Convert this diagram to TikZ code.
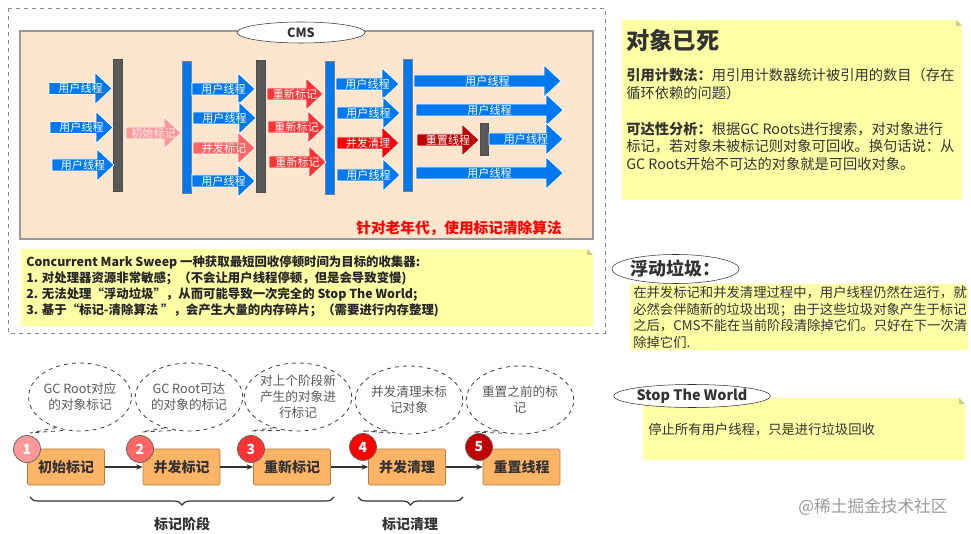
\documentclass[tikz,border=0pt]{standalone}
\usepackage{fontspec}
\setmainfont{Noto Sans CJK SC}
\usetikzlibrary{decorations.pathreplacing,shapes.geometric,arrows.meta,calc}
\definecolor{ublue}{RGB}{0,120,240}
\definecolor{barg}{RGB}{89,89,89}
\definecolor{peach}{RGB}{253,229,206}
\definecolor{notey}{RGB}{255,255,166}
\definecolor{foldc}{RGB}{205,205,140}
\definecolor{pk1}{RGB}{255,153,153}
\definecolor{pk2}{RGB}{255,102,102}
\definecolor{pk3}{RGB}{255,51,51}
\definecolor{pk4}{RGB}{255,0,0}
\definecolor{pk5}{RGB}{192,0,0}
\definecolor{boxo}{RGB}{255,180,102}
\definecolor{txt}{RGB}{51,51,51}
\newcommand\fs[2]{\fontsize{#1}{#2}\selectfont}
\newcommand\blk[6]{%
  \filldraw[#4, draw=white, line width=0.5pt] (#1,#3-6) -- ({#2-17},#3-6) -- ({#2-17},#3-16) -- (#2,#3) -- ({#2-17},#3+16) -- ({#2-17},#3+6) -- (#1,#3+6) -- cycle;
  \node[atext] (#6) at ({(#1+#2)/2},#3) {#5};}
\newcommand\notebox[4]{%
  \fill[notey] (#1,#2) -- ({#3-6},#2) -- (#3,{#2+6}) -- (#3,#4) -- (#1,#4) -- cycle;
  \fill[foldc] ({#3-6},#2) -- ({#3-6},{#2+6}) -- (#3,{#2+6}) -- cycle;}
\begin{document}
\begin{tikzpicture}[x=0.75pt,y=-0.75pt,
  atext/.style={text=white, inner sep=0pt, font=\fs{8.3}{10}},
  flowbox/.style={draw=boxo!70!black, fill=boxo, rounded corners=1pt, minimum width=77*0.75pt, minimum height=36*0.75pt, inner sep=0pt, font=\fs{10.5}{12}\bfseries, text=txt},
  numc/.style={circle, draw=black!60, line width=0.6pt, minimum size=27*0.75pt, inner sep=0pt, font=\fs{10.5}{12}\bfseries, text=white},
  bubble/.style={ellipse, draw=black!75, dashed, line width=0.6pt, minimum width=97*0.75pt, minimum height=68*0.75pt, inner sep=0pt, align=center, font=\fs{9.5}{12}, text=black!65},
  tail/.style={draw=black!75, dashed, line width=0.6pt},
  flow/.style={draw=txt, line width=1.1pt, -{Stealth[length=5pt,width=4pt]}},
  ntext/.style={anchor=north west, inner sep=0pt, align=left, text=txt}]
\useasboundingbox (0,0) rectangle (971,534);
% outer dashed frame
\draw[black!45, dashed, line width=0.6pt] (8,8) rectangle (605,333);
% peach area
\filldraw[fill=peach, draw=black!40, line width=0.8pt] (20,31) rectangle (593,239);
\node[ellipse, draw=black!80, fill=white, minimum width=128*0.75pt, minimum height=21*0.75pt, inner sep=0pt, font=\fs{9.5}{11}\bfseries, text=txt] (cms) at (301,32.5) {CMS};
% bars
\filldraw[fill=barg, draw=black!70, line width=0.4pt] (113,59) rectangle (122,191);
\filldraw[fill=ublue, draw=black!50, line width=0.4pt] (182,61) rectangle (191,193);
\filldraw[fill=barg, draw=black!70, line width=0.4pt] (256,60) rectangle (265,192);
\filldraw[fill=ublue, draw=black!50, line width=0.4pt] (325,61) rectangle (334,194);
\filldraw[fill=ublue, draw=black!50, line width=0.4pt] (403,59) rectangle (412,191);
\filldraw[fill=barg, draw=black!70, line width=0.4pt] (480,123) rectangle (488,155);
% column 1
\blk{49}{112}{88.5}{ublue}{用户线程}{a1}
\blk{50}{113}{127.5}{ublue}{用户线程}{a2}
\blk{52}{114}{165}{ublue}{用户线程}{a3}
\blk{126}{181}{133}{pk1}{\textcolor{white!85!pk1}{初始标记}}{a4}
% column 2
\blk{192}{255}{89}{ublue}{用户线程}{b1}
\blk{193}{256}{118}{ublue}{用户线程}{b2}
\blk{193}{255}{148}{pk2}{并发标记}{b3}
\blk{192}{255}{181}{ublue}{用户线程}{b4}
% column 3
\blk{267}{323}{94}{pk3}{重新标记}{c1}
\blk{268}{325}{127}{pk3}{重新标记}{c2}
\blk{269}{326}{162}{pk3}{重新标记}{c3}
% column 4
\blk{336}{399}{84}{ublue}{用户线程}{d1}
\blk{337}{400}{113}{ublue}{用户线程}{d2}
\blk{337}{399}{143}{pk4}{并发清理}{d3}
\blk{337}{400}{175}{ublue}{用户线程}{d4}
% column 5
\blk{414}{561}{81}{ublue}{用户线程}{e1}
\blk{416}{563}{110}{ublue}{用户线程}{e2}
\blk{417}{479}{140}{pk5}{重置线程}{e3}
\blk{489}{563}{139}{ublue}{用户线程}{e4}
\blk{416}{563}{173}{ublue}{用户线程}{e5}
\node[text=pk4, font=\fs{11}{13}\bfseries, inner sep=0pt] (old) at (459,228) {针对老年代，使用标记清除算法};
% note 1
\notebox{21}{249}{593}{326}
\node[ntext, font=\fs{9.3}{12}\bfseries, text=black!85] (n1) at (26,256) {%
Concurrent Mark Sweep 一种获取最短回收停顿时间为目标的收集器:\\
1. 对处理器资源非常敏感；（不会让用户线程停顿，但是会导致变慢)\\
2. 无法处理“浮动垃圾”，从而可能导致一次完全的 Stop The World;\\
3. 基于“标记-清除算法 ”，会产生大量的内存碎片；（需要进行内存整理)};
% right notes
\notebox{622}{20}{962}{200}
\node[ntext, font=\fs{17.5}{20}\bfseries] (t1) at (626,29) {对象已死};
\node[ntext, font=\fs{10.7}{13.4}] (t2) at (626,68) {%
\textbf{引用计数法：}用引用计数器统计被引用的数目（存在\\
循环依赖的问题）\\[13.4pt]
\textbf{可达性分析：}根据GC Roots进行搜索，对对象进行\\
标记，若对象未被标记则对象可回收。换句话说：从\\
GC Roots开始不可达的对象就是可回收对象。};
\notebox{630}{284}{968}{350}
\node[ellipse, draw=black!80, fill=white, minimum width=109*0.75pt, minimum height=29*0.75pt, inner sep=0pt, font=\fs{13.5}{15}\bfseries, text=txt] (fg) at (675.5,269) {浮动垃圾：};
\node[ntext, font=\fs{10}{12.4}] (t3) at (633,286) {%
在并发标记和并发清理过程中，用户线程仍然在运行，就\\
必然会伴随新的垃圾出现；由于这些垃圾对象产生于标记\\
之后，CMS不能在当前阶段清除掉它们。只好在下一次清\\
除掉它们.};
\notebox{643}{398}{965}{460}
\node[ellipse, draw=black!80, fill=white, minimum width=138*0.75pt, minimum height=23*0.75pt, inner sep=0pt, font=\fs{10.8}{12}\bfseries, text=txt] (stw) at (692,396) {Stop The World};
\node[ntext, font=\fs{10}{12}] (t4) at (648,423) {停止所有用户线程，只是进行垃圾回收};
\node[text=black!40, font=\fs{12.5}{14}, inner sep=0pt] (wm) at (873,507) {@稀土掘金技术社区};
% flow
\node[flowbox] (f1) at (66,467) {初始标记};
\node[flowbox] (f2) at (181.5,467) {并发标记};
\node[flowbox] (f3) at (292,467) {重新标记};
\node[flowbox] (f4) at (407,467) {并发清理};
\node[flowbox] (f5) at (521.5,467) {重置线程};
\draw[flow] (f1) -- (f2);
\draw[flow] (f2) -- (f3);
\draw[flow] (f3) -- (f4);
\draw[flow] (f4) -- (f5);
\node[numc, fill=pk1] (c1n) at (27,449) {1};
\node[numc, fill=pk2] (c2n) at (140,449) {2};
\node[numc, fill=pk3] (c3n) at (251,449) {3};
\node[numc, fill=pk4] (c4n) at (363,447) {4};
\node[numc, fill=pk5] (c5n) at (479,447) {5};
\node[bubble] (q1) at (80,397) {GC Root对应\\的对象标记};
\node[bubble] (q2) at (189,397) {GC Root可达\\的对象的标记};
\node[bubble] (q3) at (298,397) {对上个阶段新\\产生的对象进\\行标记};
\node[bubble] (q4) at (409,400) {并发清理未标\\记对象};
\node[bubble] (q5) at (520,400) {重置之前的标\\记};
\coordinate (k1) at (30,433);
\coordinate (k2) at (142,432);
\coordinate (k3) at (251,431);
\coordinate (k4) at (362,431);
\coordinate (k5) at (473,432);
\foreach \i in {1,...,5}{\draw[tail] (q\i.232) -- (k\i) -- (q\i.248);}
% braces
\draw[txt, line width=0.9pt, decorate, decoration={brace, mirror, amplitude=6pt}] (30,497) -- (334,497) coordinate[midway] (br1);
\draw[txt, line width=0.9pt, decorate, decoration={brace, mirror, amplitude=6pt}] (358,497) -- (463,497) coordinate[midway] (br2);
\node[font=\fs{10.5}{12}\bfseries, text=txt] (l1) at (182,524) {标记阶段};
\node[font=\fs{10.5}{12}\bfseries, text=txt] (l2) at (410,524) {标记清理};
\end{tikzpicture}
\end{document}
